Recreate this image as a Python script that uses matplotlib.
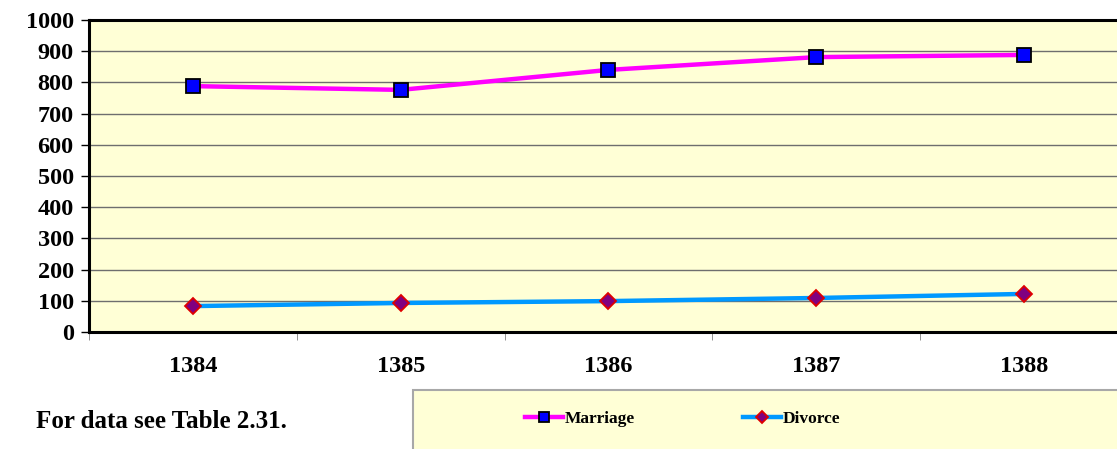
# %%
# Imports
import matplotlib

matplotlib.use("Agg")
import matplotlib.pyplot as plt
from matplotlib.patches import Rectangle

plt.rcParams["font.family"] = ["Liberation Serif", "DejaVu Serif"]
plt.rcParams["font.weight"] = "bold"

# %%
# Data
years = ["1384", "1385", "1386", "1387", "1388"]
marriage = [788, 776, 840, 881, 888]
divorce = [83, 93, 99, 109, 122]
y_ticks = list(range(0, 1001, 100))

# %%
# Figure and axes (plot area runs past the right edge, as in the original)
fig = plt.figure(figsize=(11.17, 4.49), dpi=100)
ax = fig.add_axes([0.0797, 0.2606, 0.9301, 0.6949])
ax.set_facecolor("#FFFFD6")

x = list(range(len(years)))
ax.plot(x, marriage, color="#FF00FF", lw=3.2, marker="s", ms=9.5,
        mfc="#0000FF", mec="black", mew=1.3, label="Marriage", zorder=3)
ax.plot(x, divorce, color="#0099FF", lw=3.2, marker="D", ms=8,
        mfc="#800080", mec="#E00000", mew=1.3, label="Divorce", zorder=3)

# %%
# Axis styling
ax.set_xlim(-0.5, len(years) - 0.5)
ax.set_ylim(0, 1000)
ax.set_yticks(y_ticks)
ax.set_yticklabels([str(v) for v in y_ticks], fontsize=17.5, fontweight="bold")
ax.set_xticks(x)
ax.set_xticklabels(years, fontsize=17.5, fontweight="bold")
ax.set_xticks([i - 0.5 for i in range(len(years) + 1)], minor=True)
ax.tick_params(axis="x", which="major", length=0, pad=17)
ax.tick_params(axis="x", which="minor", length=6, color="#808080", direction="out")
ax.tick_params(axis="y", length=6, width=1, direction="out", pad=5)
ax.yaxis.grid(True, color="#6E6E6E", lw=1)
ax.set_axisbelow(True)
for side in ["left", "bottom", "top"]:
    ax.spines[side].set_linewidth(2.2)
    ax.spines[side].set_color("black")
ax.spines["right"].set_visible(False)

# %%
# Legend box and note
fig.patches.append(Rectangle((0.3697, -0.05), 0.7, 0.1814, transform=fig.transFigure,
                             facecolor="#FFFFD6", edgecolor="#A8A8A8", lw=1.5, zorder=0))
fig.legend(loc="center left", bbox_to_anchor=(525 / 1117, 1 - 419 / 449), ncol=2,
           frameon=False, prop={"weight": "bold", "size": 12.5}, markerscale=0.75,
           borderpad=0, borderaxespad=0, handlelength=2.2, handletextpad=0.1,
           columnspacing=6.2)
fig.text(36 / 1117, 1 - 421 / 449, "For data see Table 2.31.", fontsize=18,
         fontweight="bold", va="center", ha="left")

fig.savefig("out.png", dpi=100)
